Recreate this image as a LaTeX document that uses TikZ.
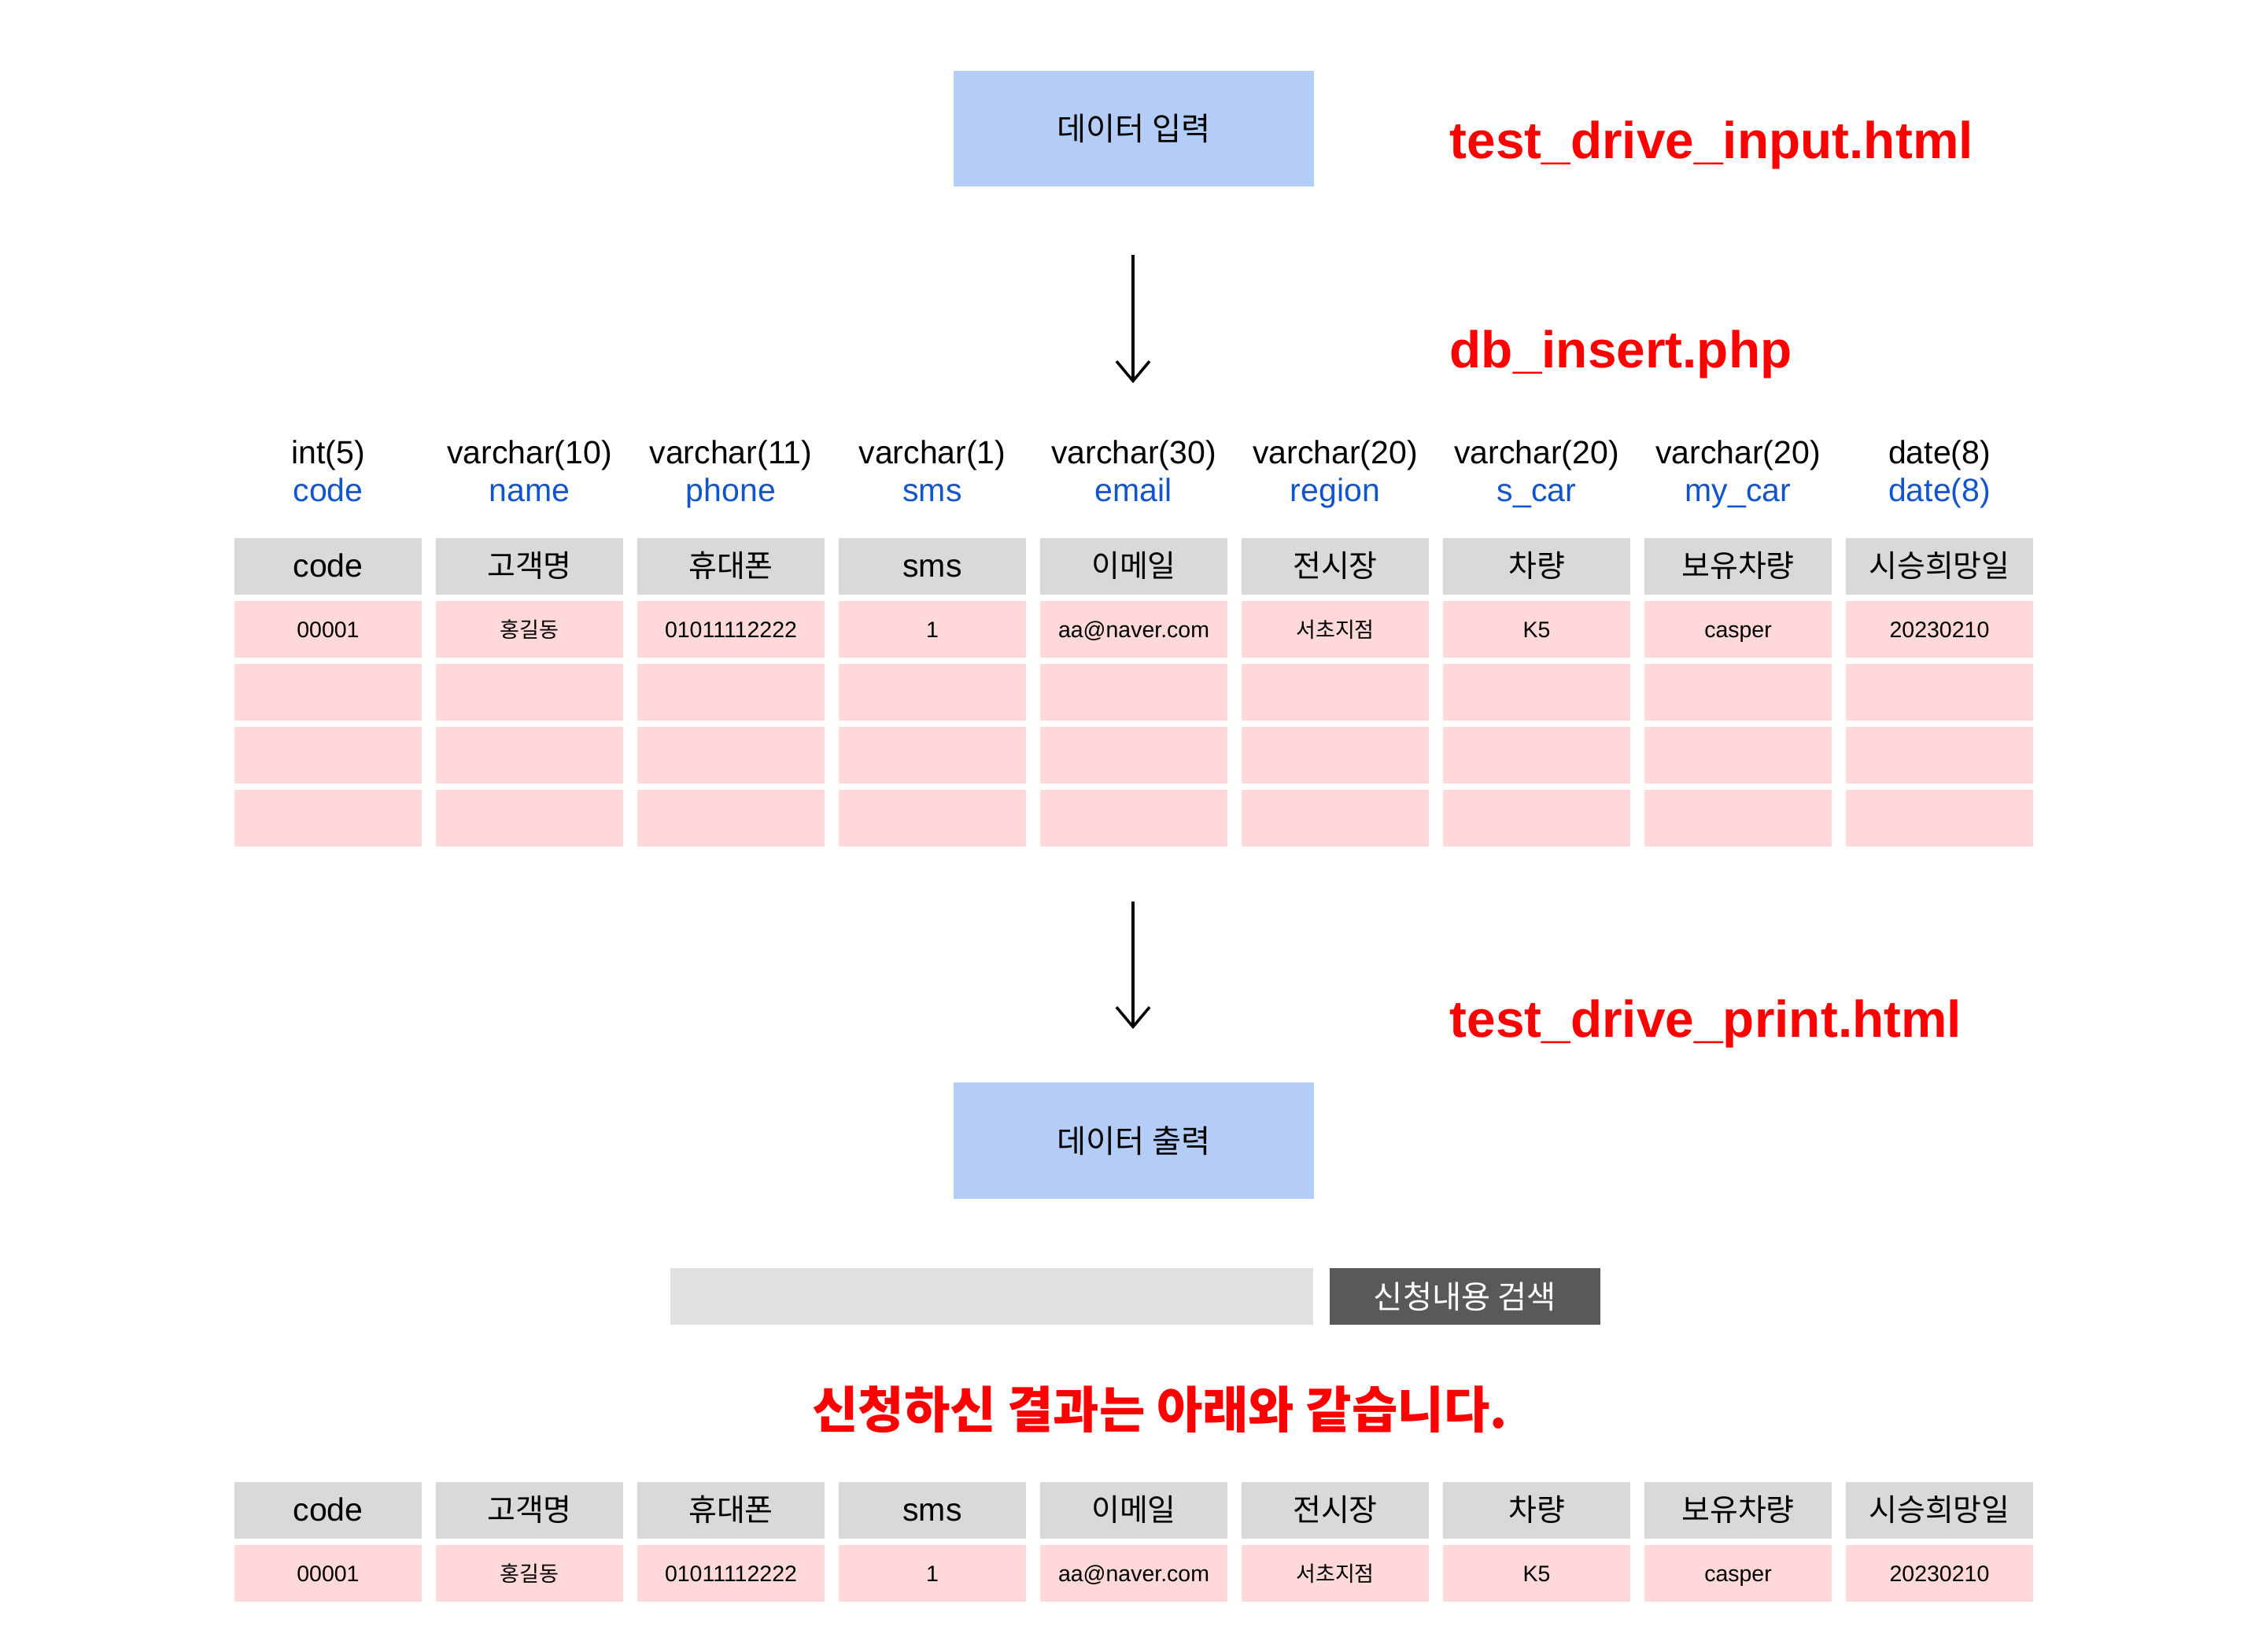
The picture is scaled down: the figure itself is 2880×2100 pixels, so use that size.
\documentclass[tikz,border=0pt]{standalone}
\usepackage{fontspec}
\setmainfont{Liberation Sans}
\newfontfamily\kr[Scale=0.95]{Noto Sans CJK KR}
\usetikzlibrary{arrows.meta}
\definecolor{boxblue}{HTML}{B4CDF6}
\definecolor{hdgray}{HTML}{D9D9D9}
\definecolor{cellpink}{HTML}{FFD9D9}
\definecolor{bargray}{HTML}{E1E1E1}
\definecolor{btngray}{HTML}{595959}
\definecolor{fieldblue}{HTML}{1155CC}
\begin{document}
\begin{tikzpicture}[x=0.01cm,y=-0.01cm,>={Straight Barb[length=0.25cm,width=0.42cm]},
	proc/.style={fill=boxblue,minimum width=4.58cm,minimum height=1.47cm,inner sep=0,font=\kr\fontsize{12.1}{14}\selectfont},
	fname/.style={anchor=base west,text=red,inner sep=0,font=\bfseries\fontsize{18.7}{22}\selectfont},
	cell/.style={minimum width=2.38cm,minimum height=0.714cm,inner sep=0},
	hd/.style={cell,fill=hdgray,text height=7.74pt,text depth=0pt,font=\fontsize{11.67}{14}\selectfont},
	dat/.style={cell,fill=cellpink,text height=5.7pt,text depth=0pt,font=\fontsize{8.1}{10}\selectfont},
	typ/.style={anchor=base,inner sep=0,font=\fontsize{11.67}{14}\selectfont}]
	\useasboundingbox (0,0) rectangle (2880,2100);
	% input side
	\node[proc] (inbox) at (1441,163.5) {데이터 입력};
	\node[fname] (fin) at (1842,202) {test\_drive\_input.html};
	\node[fname] (fdb) at (1842,468) {db\_insert.php};
	\coordinate (a1s) at (1440,324);
	\coordinate (a1e) at (1440,487);
	\draw[->,line width=1pt] (a1s)--(a1e);
	% table columns
	\foreach \h/\t/\n/\d [count=\i from 0] in {code/int(5)/code/00001,{\kr 고객명}/varchar(10)/name/{\kr 홍길동},{\kr 휴대폰}/varchar(11)/phone/01011112222,sms/varchar(1)/sms/1,{\kr 이메일}/varchar(30)/email/aa@naver.com,{\kr 전시장}/varchar(20)/region/{\kr 서초지점},{\kr 차량}/varchar(20)/s\_car/K5,{\kr 보유차량}/varchar(20)/my\_car/casper,{\kr 시승희망일}/date(8)/date(8)/20230210}{
		\node[typ] (ty\i) at ({417+256*\i},589) {\t};
		\node[typ,text=fieldblue] (fn\i) at ({417+256*\i},637) {\n};
		\node[hd] (hd\i) at ({417+256*\i},720) {\h};
		\node[dat] (da\i) at ({417+256*\i},800) {\d};
		\foreach \r in {880,960,1040}
			\node[dat] (e\r\i) at ({417+256*\i},\r) {};
		\node[hd] (ohd\i) at ({417+256*\i},1920) {\h};
		\node[dat] (oda\i) at ({417+256*\i},2000) {\d};
	}
	% output side
	\coordinate (a2s) at (1440,1146);
	\coordinate (a2e) at (1440,1308);
	\draw[->,line width=1pt] (a2s)--(a2e);
	\node[fname] (fpr) at (1842,1318) {test\_drive\_print.html};
	\node[proc] (outbox) at (1441,1450) {데이터 출력};
	\node[fill=bargray,minimum width=8.17cm,minimum height=0.72cm,inner sep=0] (sbar) at (1260.5,1648) {};
	\node[fill=btngray,text=white,minimum width=3.44cm,minimum height=0.72cm,inner sep=0,font=\kr\fontsize{12.1}{14}\selectfont] (sbtn) at (1862,1648) {신청내용 검색};
	\node[text=red,inner sep=0,font=\kr\bfseries\fontsize{19.0}{24}\selectfont] (msg) at (1474,1792) {신청하신 결과는 아래와 같습니다.};
\end{tikzpicture}
\end{document}
